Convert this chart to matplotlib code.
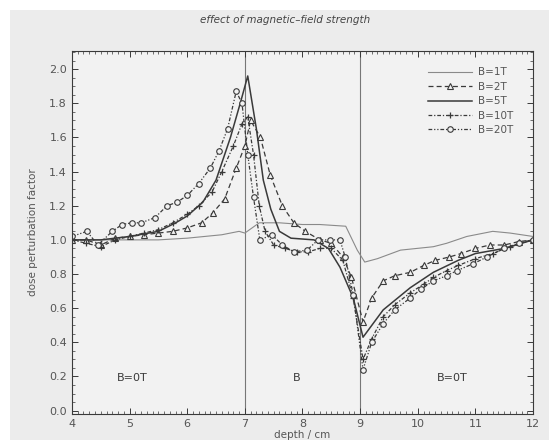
import matplotlib
matplotlib.use("Agg")
import matplotlib.pyplot as plt
from matplotlib.patches import Rectangle
from matplotlib.ticker import MultipleLocator

# ---- data ----
x1 = [4.0, 4.5, 5.0, 5.5, 6.0, 6.3, 6.6, 6.9, 7.0, 7.25, 7.6, 8.0, 8.3, 8.75, 8.95, 9.08,
      9.3, 9.7, 10.27, 10.5, 10.85, 11.3, 11.6, 12.0]
y1 = [1.0, 1.0, 1.0, 1.0, 1.01, 1.02, 1.03, 1.05, 1.04, 1.1, 1.1, 1.09, 1.09, 1.08, 0.94, 0.87,
      0.89, 0.94, 0.96, 0.98, 1.02, 1.05, 1.04, 1.02]

x2 = [4.0, 4.25, 4.5, 4.75, 5.0, 5.25, 5.5, 5.75, 6.0, 6.25, 6.45, 6.65, 6.85, 7.0, 7.1, 7.27,
      7.44, 7.65, 7.85, 8.05, 8.3, 8.5, 8.7, 8.85, 9.05, 9.2, 9.4, 9.6, 9.87, 10.1, 10.3, 10.55,
      10.75, 11.0, 11.25, 11.5, 11.75, 12.0]
y2 = [1.0, 1.0, 0.97, 1.01, 1.02, 1.03, 1.04, 1.05, 1.07, 1.1, 1.16, 1.24, 1.42, 1.55, 1.7, 1.6,
      1.38, 1.2, 1.1, 1.05, 1.0, 0.98, 0.9, 0.78, 0.52, 0.66, 0.76, 0.79, 0.81, 0.85, 0.88, 0.9,
      0.92, 0.95, 0.97, 0.97, 0.99, 1.0]

x5 = [4.0, 4.5, 5.0, 5.5, 5.8, 6.0, 6.27, 6.5, 6.75, 6.92, 7.05, 7.2, 7.32, 7.45, 7.6, 7.8,
      8.2, 8.45, 8.65, 8.88, 9.05, 9.4, 9.87, 10.27, 10.7, 11.0, 11.5, 12.0]
y5 = [1.0, 1.0, 1.02, 1.05, 1.1, 1.14, 1.22, 1.35, 1.6, 1.8, 1.96, 1.65, 1.35, 1.18, 1.05, 1.01,
      1.0, 0.95, 0.84, 0.66, 0.43, 0.59, 0.72, 0.81, 0.88, 0.92, 0.95, 1.0]

x10 = [4.0, 4.25, 4.5, 4.75, 5.0, 5.25, 5.5, 5.75, 6.0, 6.2, 6.43, 6.6, 6.8, 6.95, 7.05, 7.15,
       7.25, 7.35, 7.5, 7.7, 7.9, 8.1, 8.3, 8.5, 8.7, 8.88, 9.05, 9.2, 9.4, 9.6, 9.87, 10.1,
       10.27, 10.5, 10.7, 11.0, 11.3, 11.6, 12.0]
y10 = [1.0, 0.98, 0.96, 1.0, 1.02, 1.04, 1.06, 1.1, 1.15, 1.2, 1.28, 1.4, 1.55, 1.68, 1.72, 1.5,
       1.2, 1.05, 0.97, 0.95, 0.93, 0.93, 0.95, 0.95, 0.88, 0.66, 0.3, 0.42, 0.55, 0.62, 0.69, 0.74,
       0.78, 0.82, 0.85, 0.89, 0.92, 0.96, 1.0]

x20 = [4.0, 4.26, 4.45, 4.7, 4.87, 5.04, 5.2, 5.44, 5.65, 5.82, 6.0, 6.2, 6.4, 6.55, 6.7, 6.85,
       6.95, 7.05, 7.15, 7.26, 7.47, 7.65, 7.85, 8.08, 8.27, 8.48, 8.65, 8.74, 8.88, 9.05, 9.2,
       9.4, 9.6, 9.87, 10.05, 10.27, 10.5, 10.68, 10.96, 11.2, 11.5, 11.75, 12.0]
y20 = [1.02, 1.05, 0.97, 1.05, 1.09, 1.1, 1.1, 1.13, 1.2, 1.22, 1.26, 1.33, 1.42, 1.52, 1.65, 1.87,
       1.8, 1.5, 1.25, 1.0, 1.03, 0.97, 0.93, 0.94, 1.0, 1.0, 1.0, 0.9, 0.68, 0.24, 0.4,
       0.51, 0.59, 0.66, 0.71, 0.76, 0.79, 0.82, 0.86, 0.9, 0.95, 0.98, 1.0]

labels = ["B=1T", "B=2T", "B=5T", "B=10T", "B=20T"]
region_labels = ["B=0T", "B", "B=0T"]
region_x = [5.05, 7.9, 10.6]
boundaries = [7, 9]
title = "effect of magnetic\u2013field strength"

# ---- figure ----
ink = "#3a3a3a"
fig = plt.figure(figsize=(5.49, 4.40), dpi=100)
fig.patch.set_facecolor("white")
fig.patches.append(Rectangle((10 / 549, 0), 1, 1 - 10 / 440, transform=fig.transFigure,
                             facecolor="#ececec", edgecolor="none", zorder=-10))
ax = fig.add_axes([0.131, 0.059, 0.840, 0.825])
ax.set_facecolor("#f2f2f2")

ax.plot(x1, y1, color="#8a8a8a", lw=0.8, label=labels[0])
ax.plot(x2, y2, color=ink, lw=0.9, ls=(0, (4, 2.5)), marker="^", ms=4,
        mfc="#f2f2f2", mec=ink, mew=0.8, label=labels[1])
ax.plot(x5, y5, color=ink, lw=1.1, label=labels[2])
ax.plot(x10, y10, color=ink, lw=0.9, ls=(0, (3, 1.5, 1, 1.5)), marker="+", ms=5,
        mew=0.9, label=labels[3])
ax.plot(x20, y20, color=ink, lw=0.9, ls=(0, (3, 1.5, 1, 1.5, 1, 1.5)), marker="o", ms=4,
        mfc="#f2f2f2", mec=ink, mew=0.8, label=labels[4])

for b in boundaries:
    ax.axvline(b, color="#777777", lw=0.8, zorder=0)

for xr, t in zip(region_x, region_labels):
    ax.text(xr, 0.19, t, ha="center", va="center", fontsize=8, color=ink)

ax.set_xlim(4, 12)
ax.set_ylim(-0.02, 2.106)
ax.xaxis.set_major_locator(MultipleLocator(1))
ax.xaxis.set_minor_locator(MultipleLocator(0.1))
ax.yaxis.set_major_locator(MultipleLocator(0.2))
ax.yaxis.set_minor_locator(MultipleLocator(0.05))
ax.tick_params(which="both", direction="in", top=True, right=True, colors=ink,
               labelsize=8, labelcolor="#555555")
ax.tick_params(which="major", length=4, width=0.7)
ax.tick_params(which="minor", length=2, width=0.5)
ax.yaxis.set_major_formatter(matplotlib.ticker.FormatStrFormatter("%.1f"))
for s in ax.spines.values():
    s.set_color(ink)
    s.set_linewidth(0.8)

ax.set_xlabel("depth / cm", fontsize=7.5, color="#555555", labelpad=1)
ax.set_ylabel("dose perturbation factor", fontsize=7.5, color="#555555", labelpad=8)
fig.text(0.52, 0.955, title, ha="center", va="center", fontsize=7.5,
         style="italic", color="#444444")

leg = ax.legend(loc="upper right", bbox_to_anchor=(0.972, 0.975), frameon=False,
                fontsize=7.5, handlelength=4.3, labelspacing=0.42, handletextpad=0.5,
                borderaxespad=0.3)
for t in leg.get_texts():
    t.set_color("#555555")

fig.savefig("out.png", dpi=100, facecolor=fig.get_facecolor())
